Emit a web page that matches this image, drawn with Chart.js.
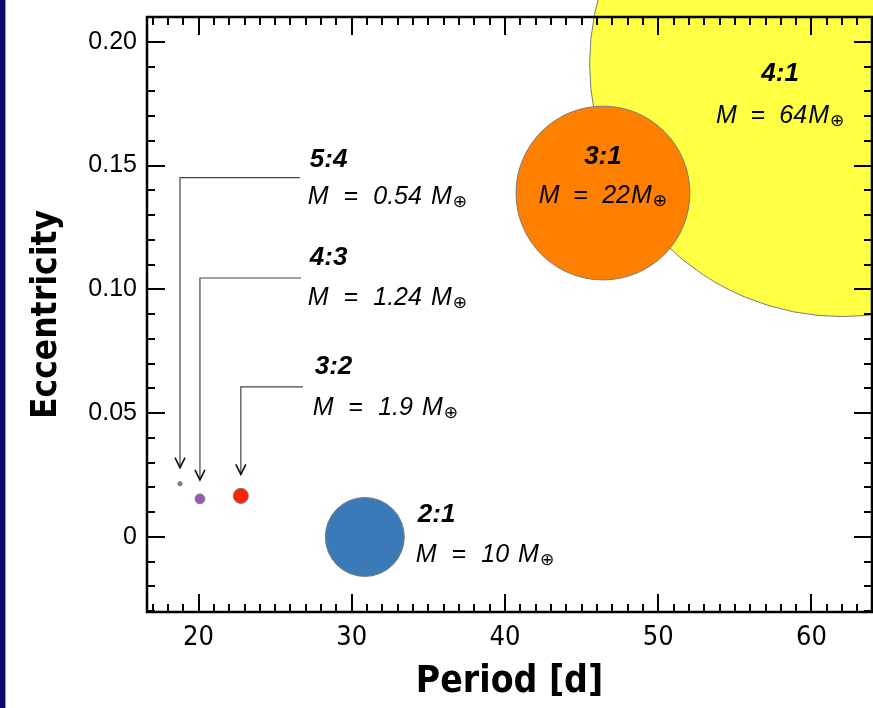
<!DOCTYPE html>
<html><head><meta charset="utf-8">
<script src="https://cdn.jsdelivr.net/npm/chart.js@4/dist/chart.umd.min.js"></script>
<style>
html,body{margin:0;padding:0;background:#fff;}
#wrap{position:relative;width:873px;height:708px;overflow:hidden;}
#strip{position:absolute;left:0;top:0;width:5px;height:708px;background:#0b0b6b;border-right:1px solid #9a9ad0;}
canvas{position:absolute;left:0;top:0;}
</style></head><body>
<div id="wrap"><div id="strip"></div><canvas id="c" width="873" height="708"></canvas></div>
<script>
// ---- data ----
const resonances    = ['5:4', '4:3', '3:2', '2:1', '3:1', '4:1'];
const periods       = [18.79, 20.09, 22.76, 30.85, 46.39, 62.02];   // days
const eccentricities= [0.0215, 0.0154, 0.0166, 0.0, 0.1389, 0.1911];
const masses        = [0.54, 1.24, 1.9, 10, 22, 64];                 // Earth masses
const massTexts     = ['0.54', '1.24', '1.9', '10', '22', '64'];
const xTicks        = [20, 30, 40, 50, 60];
const xTickLabels   = ['20', '30', '40', '50', '60'];
const yTicks        = [0, 0.05, 0.10, 0.15, 0.20];
const yTickLabels   = ['0', '0.05', '0.10', '0.15', '0.20'];

// ---- styles ----
const colors = ['#5a9e5a', '#9b5aab', '#ff2400', '#3a7ab8', '#ff7f00', '#ffff44'];
const RADIUS_PER_MASS = 3.95;
const NARROW = "'Liberation Sans Narrow','DejaVu Sans Condensed',sans-serif";
const SANS = "'Liberation Sans',Arial,sans-serif";

// annotation layout (in data coordinates of the text)
const notes = [
  {i:0, style:'arrow', x:27.13, title:0.1523, label:0.1374, elbow:0.1451, lineEnd:26.61, spaced:true},
  {i:1, style:'arrow', x:27.13, title:0.1127, label:0.0966, elbow:0.1046, lineEnd:26.68, spaced:true},
  {i:2, style:'arrow', x:27.45, title:0.0687, label:0.0521, elbow:0.0606, lineEnd:26.81, spaced:true},
  {i:3, style:'left',  x:34.18, title:0.0089, label:-0.0073, spaced:true},
  {i:4, style:'center',x:46.39, title:0.1535, label:0.1378, spaced:false},
  {i:5, style:'center',x:57.95, title:0.1870, label:0.1700, spaced:false}
];

const order = masses.map((m,i)=>i).sort((a,b)=>masses[b]-masses[a]);

function drawMassLabel(ctx, i, spaced, x, y, align){
  const fs = 25;
  const pieces = ['M', '=', massTexts[i], 'M'];
  const gaps = spaced ? [15, 15, 9] : [14, 14, 1];
  const fontFor = p => (p === '=' ? `${fs}px ${SANS}` : `italic ${fs}px ${SANS}`);
  const oFont = `17px 'DejaVu Sans',sans-serif`;
  let w = 0;
  pieces.forEach((p,k)=>{ ctx.font = fontFor(p); w += ctx.measureText(p).width + (k<gaps.length?gaps[k]:0); });
  ctx.font = oFont;
  w += ctx.measureText('\u2295').width + 1;
  let cx = align === 'center' ? x - w/2 : x;
  ctx.textAlign = 'left'; ctx.textBaseline = 'middle';
  pieces.forEach((p,k)=>{
    ctx.font = fontFor(p);
    ctx.fillText(p, cx, y);
    cx += ctx.measureText(p).width + (k<gaps.length?gaps[k]:0);
  });
  ctx.font = oFont;
  ctx.fillText('\u2295', cx + 1, y + 6);
}

const framePlugin = {
  id: 'frame',
  afterDatasetsDraw(chart){
    const {ctx, chartArea:a, scales:{x, y}} = chart;
    ctx.save();
    ctx.strokeStyle = '#000';
    ctx.lineCap = 'butt';
    const line = (x1,y1,x2,y2)=>{ctx.beginPath();ctx.moveTo(x1,y1);ctx.lineTo(x2,y2);ctx.stroke();};
    ctx.lineWidth = 2;
    for (let v = Math.ceil(x.min); v <= x.max; v++){
      const px = Math.round(x.getPixelForValue(v));
      const L = (v % 10 === 0) ? 18 : 8;
      line(px, a.bottom, px, a.bottom - L);
      line(px, a.top, px, a.top + L);
    }
    for (let k = Math.ceil(y.min*100); k <= Math.floor(y.max*100); k++){
      const py = Math.round(y.getPixelForValue(k/100));
      const L = (k % 5 === 0) ? 18 : 8;
      line(a.left, py, a.left + L, py);
      line(a.right, py, a.right - L, py);
    }
    ctx.lineWidth = 2.5;
    ctx.strokeRect(a.left, a.top, a.right - a.left, a.bottom - a.top);

    // annotations
    const meta = chart.getDatasetMeta(0);
    notes.forEach(n=>{
      const idx = order.indexOf(n.i);
      const el = meta.data[idx];
      const bx = el.x, by = el.y, r = el.options.radius;
      const tx = x.getPixelForValue(n.x);
      const ty = y.getPixelForValue(n.title);
      const ly = y.getPixelForValue(n.label);
      ctx.fillStyle = '#000';
      ctx.textBaseline = 'middle';
      ctx.font = `italic bold 26px ${SANS}`;
      if (n.style === 'center'){
        ctx.textAlign = 'center';
        ctx.fillText(resonances[n.i], tx, ty);
        drawMassLabel(ctx, n.i, n.spaced, tx, ly, 'center');
      } else {
        ctx.textAlign = 'left';
        ctx.fillText(resonances[n.i], tx + 2, ty);
        drawMassLabel(ctx, n.i, n.spaced, tx, ly, 'left');
      }
      if (n.style === 'arrow'){
        const ey = y.getPixelForValue(n.elbow);
        const ex = x.getPixelForValue(n.lineEnd);
        const tipY = by - r - 14;
        ctx.strokeStyle = '#444';
        ctx.lineWidth = 1.2;
        ctx.beginPath();
        ctx.moveTo(ex, ey); ctx.lineTo(bx, ey); ctx.lineTo(bx, tipY);
        ctx.stroke();
        ctx.strokeStyle = '#111';
        ctx.lineWidth = 1.6;
        ctx.beginPath();
        ctx.moveTo(bx - 5, tipY - 10); ctx.lineTo(bx, tipY); ctx.lineTo(bx + 5, tipY - 10);
        ctx.stroke();
      }
    });
    ctx.restore();
  }
};

new Chart(document.getElementById('c'), {
  type: 'bubble',
  data: {
    datasets: [{
      data: order.map(i=>({x: periods[i], y: eccentricities[i], r: masses[i]*RADIUS_PER_MASS})),
      backgroundColor: order.map(i=>colors[i]),
      borderColor: '#7a7a7a',
      borderWidth: 1,
      clip: false
    }]
  },
  options: {
    responsive: false,
    animation: false,
    events: [],
    layout: {autoPadding: false, padding: {top: 17, right: 1, left: 0, bottom: 0}},
    plugins: {legend: {display: false}, tooltip: {enabled: false}},
    scales: {
      x: {
        type: 'linear', min: 16.635, max: 63.95,
        afterBuildTicks: s => { s.ticks = xTicks.map(v=>({value: v})); },
        afterFit: s => { s.height = 96; s.paddingLeft = 0; s.paddingRight = 0; },
        grid: {display: false, drawTicks: false},
        border: {display: false},
        ticks: {padding: 10, color: '#000', autoSkip: false, maxRotation: 0,
                font: {family: NARROW, size: 27},
                callback: (v, i) => xTickLabels[i]},
        title: {display: true, text: 'Period [d]', color: '#000',
                font: {family: NARROW, size: 37, weight: 'bold'},
                padding: {top: 0, bottom: 3}}
      },
      y: {
        type: 'linear', min: -0.0303, max: 0.21,
        afterBuildTicks: s => { s.ticks = yTicks.map(v=>({value: v})); },
        afterFit: s => { s.width = 147; s.paddingTop = 0; s.paddingBottom = 0; },
        grid: {display: false, drawTicks: false},
        border: {display: false},
        ticks: {padding: 10, color: '#000', autoSkip: false,
                font: {family: SANS, size: 25},
                callback: (v, i) => yTickLabels[i]},
        title: {display: true, text: 'Eccentricity', color: '#000',
                font: {family: NARROW, size: 35, weight: 'bold'},
                padding: {top: 26, bottom: 0}}
      }
    }
  },
  plugins: [framePlugin]
});
</script>
</body></html>
